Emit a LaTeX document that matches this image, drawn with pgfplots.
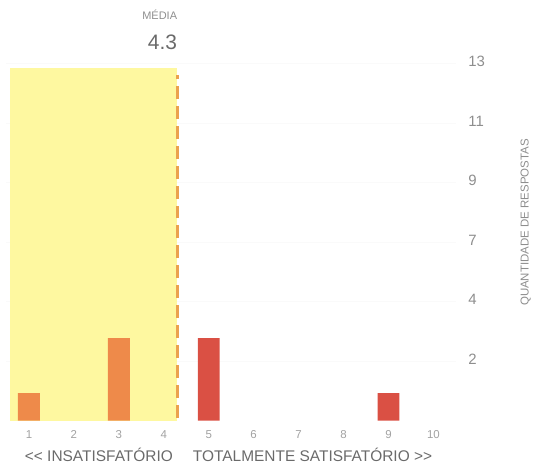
\documentclass[border=0pt]{standalone}
\usepackage{pgfplots}
\pgfplotsset{compat=1.18}
\usepackage{fontspec}
\setmainfont{Liberation Sans}
\definecolor{ylw}{HTML}{FEF8A0}
\definecolor{org}{HTML}{EE8A4A}
\definecolor{rd}{HTML}{DA5044}
\definecolor{dsh}{HTML}{EBA24E}
\definecolor{tk}{HTML}{A2A2A2}
\definecolor{yk}{HTML}{8E8E8E}
\definecolor{txt}{HTML}{6A6A6A}
\begin{document}
\begin{tikzpicture}
\path (0,0) rectangle (534pt,470pt);
\begin{axis}[
  at={(6.5pt,48pt)}, anchor=south west,
  scale only axis, width=451pt, height=358pt,
  xmin=0.5, xmax=10.5, ymin=0, ymax=13,
  axis line style={draw=none},
  major tick length=0pt,
  clip=false,
  /pgf/number format/assume math mode=true,
  xtick={1,...,10},
  ytick={2.16667,4.33333,6.5,8.66667,10.83333,13},
  yticklabels={2,4,7,9,11,13},
  yticklabel pos=right,
  ymajorgrids, grid style={gray!4, line width=0.6pt},
  xticklabel style={tk, font=\fontsize{11.5}{12}\selectfont, anchor=base, yshift=-18pt},
  yticklabel style={yk, font=\fontsize{15}{16}\selectfont, anchor=west, xshift=9pt, yshift=2pt},
  ylabel={QUANTIDADE DE RESPOSTAS},
  ylabel style={yk, font=\fontsize{11.5}{12}\selectfont, at={(axis description cs:1.155,0.555)}, anchor=center},
]
\addplot[fill=ylw, draw=none, sharp plot] coordinates {(0.58,0) (0.58,12.85) (4.3,12.85) (4.3,0)} -- cycle;
\addplot[ybar, bar width=22pt, bar shift=0pt, fill=org, draw=none] coordinates {(1,1) (3,3)};
\addplot[ybar, bar width=22pt, bar shift=0pt, fill=rd, draw=none] coordinates {(5,3) (9,1)};
\addplot[sharp plot, dsh, line width=2.5pt, dash pattern=on 13pt off 7pt] coordinates {(4.3,0.1) (4.3,12.6)};
\node[txt, font=\fontsize{15.5}{16}\selectfont, anchor=base east] at (axis cs:4.28,0) [yshift=-41pt] {{<}{<} INSATISFATÓRIO};
\node[txt, font=\fontsize{15.5}{16}\selectfont, anchor=base west] at (axis cs:4.57,0) [yshift=-41pt] {TOTALMENTE SATISFATÓRIO {>}{>}};
\node[yk, font=\fontsize{11}{12}\selectfont, anchor=base east, inner sep=0pt] at (axis cs:4.3,13) [yshift=44pt] {MÉDIA};
\node[txt, font=\fontsize{21}{22}\selectfont, anchor=base east, inner sep=0pt] at (axis cs:4.3,13) [yshift=14pt] {4.3};
\end{axis}
\end{tikzpicture}
\end{document}
